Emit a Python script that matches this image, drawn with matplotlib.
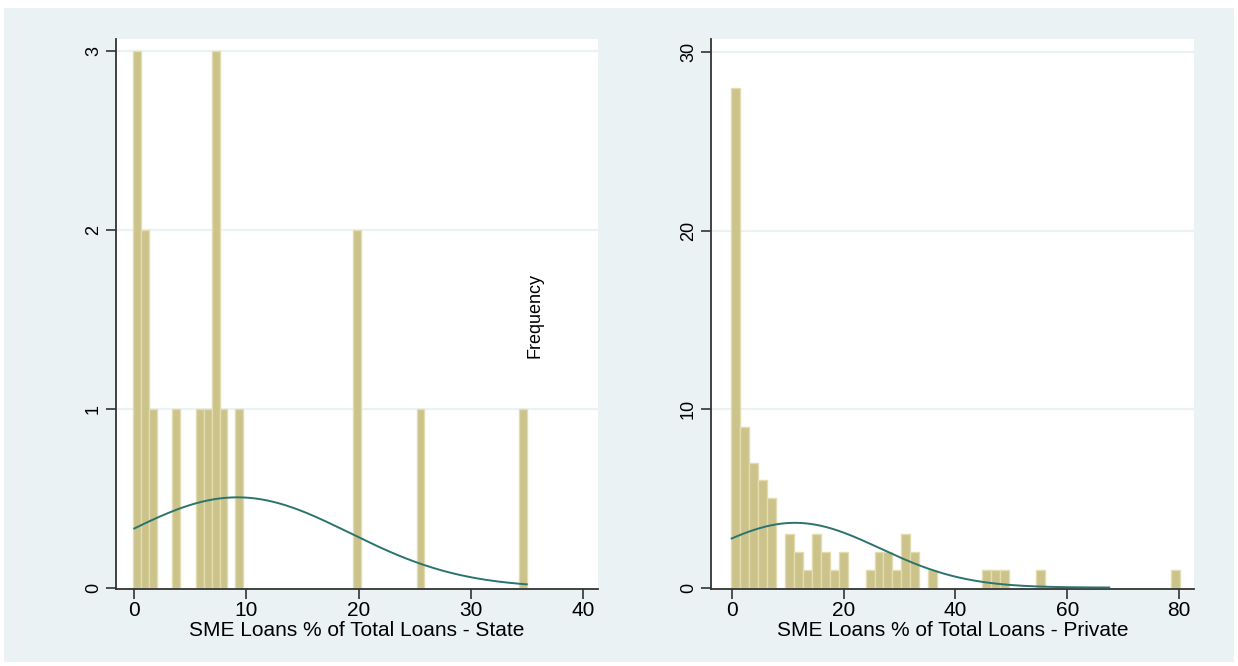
import numpy as np
import matplotlib
matplotlib.use("Agg")
import matplotlib.pyplot as plt
from matplotlib.patches import Rectangle

# ---------------- data ----------------
# Left panel: SME loans share, state banks (50 bins)
state_bin_start = -0.12
state_bin_width = 0.7026
state_counts = [3, 2, 1, 0, 0, 1, 0, 0, 1, 1,
                3, 1, 0, 1, 0, 0, 0, 0, 0, 0,
                0, 0, 0, 0, 0, 0, 0, 0, 2, 0,
                0, 0, 0, 0, 0, 0, 1, 0, 0, 0,
                0, 0, 0, 0, 0, 0, 0, 0, 0, 1]
state_norm_mean = 9.2
state_norm_sd = 10.0
state_curve_range = [0.0, 35.0]
state_xticks = [0, 10, 20, 30, 40]
state_yticks = [0, 1, 2, 3]
state_xlabel = "SME Loans % of Total Loans - State"

# Right panel: SME loans share, private banks (50 bins)
priv_bin_start = -0.18
priv_bin_width = 1.607
priv_counts = [28, 9, 7, 6, 5, 0, 3, 2, 1, 3,
               2, 1, 2, 0, 0, 1, 2, 2, 1, 3,
               2, 0, 1, 0, 0, 0, 0, 0, 1, 1,
               1, 0, 0, 0, 1, 0, 0, 0, 0, 0,
               0, 0, 0, 0, 0, 0, 0, 0, 0, 1]
priv_norm_mean = 11.3
priv_norm_sd = 15.2
priv_curve_range = [0.0, 67.5]
priv_xticks = [0, 20, 40, 60, 80]
priv_yticks = [0, 10, 20, 30]
priv_xlabel = "SME Loans % of Total Loans - Private"

ylabel_text = "Frequency"

# ---------------- style ----------------
BG = "#EAF2F3"
BAR = "#CBC38A"
BAR_EDGE = "#E2DCAE"
CURVE = "#2B746E"
AXIS = "#333333"
FONT = "Liberation Sans"
XFS = 15.0   # horizontal texts
YFS = 13.0   # rotated texts

W, H = 1238, 666
fig = plt.figure(figsize=(W / 100, H / 100), dpi=100)
fig.patch.set_facecolor("white")
fig.add_artist(Rectangle((4 / W, 4 / H), (1234 - 4) / W, (660 - 6) / H,
                         transform=fig.transFigure, facecolor=BG,
                         edgecolor="none", zorder=-10))


def px_axes(x0, x1, y0, y1):
    return fig.add_axes([x0 / W, 1 - y1 / H, (x1 - x0) / W, (y1 - y0) / H])


def draw_panel(ax, start, width, counts, mean, sd, crange,
               xticks, yticks, xlim, ylim, xlabel):
    counts = np.asarray(counts, dtype=float)
    lefts = start + width * np.arange(len(counts))
    m = counts > 0
    ax.bar(lefts[m], counts[m], width=width, align="edge",
           color=BAR, edgecolor=BAR_EDGE, linewidth=1.0, zorder=2)
    n = counts.sum()
    xs = np.linspace(crange[0], crange[1], 400)
    ys = n * width / (sd * np.sqrt(2 * np.pi)) * np.exp(-0.5 * ((xs - mean) / sd) ** 2)
    ax.plot(xs, ys, color=CURVE, linewidth=1.4, zorder=3)

    ax.set_xlim(*xlim)
    ax.set_ylim(*ylim)
    ax.set_facecolor("white")
    ax.set_xticks(xticks)
    ax.set_yticks(yticks)
    ax.set_xticklabels([str(t) for t in xticks], fontsize=XFS, fontfamily=FONT)
    ax.set_yticklabels([str(t) for t in yticks], rotation=90, va="center",
                       fontsize=YFS, fontfamily=FONT)
    for t in yticks[1:]:
        ax.axhline(t, color=BG, linewidth=1.6, zorder=1)
    for s in ["top", "right"]:
        ax.spines[s].set_visible(False)
    for s in ["left", "bottom"]:
        ax.spines[s].set_color(AXIS)
        ax.spines[s].set_linewidth(1.3)
    ax.tick_params(direction="out", length=7, width=1.2, color=AXIS, pad=3)
    ax.tick_params(axis="x", pad=2)
    ax.set_xlabel(xlabel, fontsize=XFS, fontfamily=FONT, labelpad=0)


ax1 = px_axes(116, 598, 39, 589)
draw_panel(ax1, state_bin_start, state_bin_width, state_counts,
           state_norm_mean, state_norm_sd, state_curve_range,
           state_xticks, state_yticks, (-1.63, 41.36), (-0.008, 3.067),
           state_xlabel)

ax2 = px_axes(711, 1194, 39, 589)
draw_panel(ax2, priv_bin_start, priv_bin_width, priv_counts,
           priv_norm_mean, priv_norm_sd, priv_curve_range,
           priv_xticks, priv_yticks, (-3.7, 82.65), (-0.08, 30.73),
           priv_xlabel)

fig.text(535 / W, 1 - 315 / H, ylabel_text, rotation=90, ha="center",
         va="center", fontsize=YFS, fontfamily=FONT)

fig.savefig("out.png", dpi=100)
